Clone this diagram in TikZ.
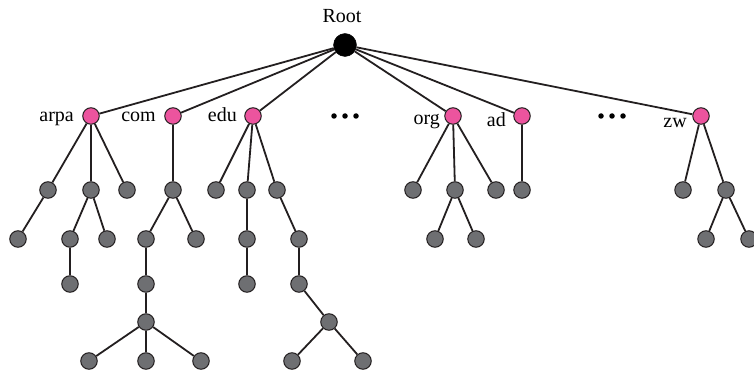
\documentclass[tikz,border=0pt]{standalone}
\usepackage{fontspec}
\setmainfont{Liberation Serif}
\definecolor{pinkn}{RGB}{236,84,158}
\definecolor{grayn}{RGB}{110,111,114}
\definecolor{edge}{RGB}{35,31,32}
\begin{document}
\begin{tikzpicture}[x=1pt,y=-1pt,
  rootn/.style={circle,fill=black,draw=black,minimum size=23pt,inner sep=0pt},
  tld/.style={circle,fill=pinkn,draw=edge,line width=1pt,minimum size=16.5pt,inner sep=0pt},
  leaf/.style={circle,fill=grayn,draw=edge,line width=1pt,minimum size=16.5pt,inner sep=0pt},
  lab/.style={anchor=base east,inner sep=0pt,font=\fontsize{20}{23}\selectfont},
  con/.style={draw=edge,line width=1.8pt},
  dotn/.style={circle,fill=black,minimum size=5.5pt,inner sep=0pt}]
\useasboundingbox (0,0) rectangle (754,371);
% root and top-level domains
\node[rootn] (root) at (345,45) {};
\node[anchor=base,inner sep=0pt,font=\fontsize{20}{23}\selectfont] (rootlab) at (342,23) {Root};
\node[tld] (arpa) at (91,116) {};
\node[tld] (com) at (173,116) {};
\node[tld] (edu) at (253,116) {};
\node[tld] (org) at (453,116) {};
\node[tld] (ad) at (522,116) {};
\node[tld] (zw) at (701,116) {};
\node[lab] (larpa) at (74,122) {arpa};
\node[lab] (lcom) at (156,122) {com};
\node[lab] (ledu) at (237,122) {edu};
\node[lab] (lorg) at (440,125) {org};
\node[lab] (lad) at (506,127) {ad};
\node[lab] (lzw) at (687,128) {zw};
% ellipses
\node[dotn] (d1a) at (334,116) {};
\node[dotn] (d1b) at (345,116) {};
\node[dotn] (d1c) at (356,116) {};
\node[dotn] (d2a) at (601,116) {};
\node[dotn] (d2b) at (612,116) {};
\node[dotn] (d2c) at (623,116) {};
% arpa subtree
\node[leaf] (a1) at (48,190) {};
\node[leaf] (a2) at (91,190) {};
\node[leaf] (a3) at (127,190) {};
\node[leaf] (a11) at (18,239) {};
\node[leaf] (a21) at (70,239) {};
\node[leaf] (a22) at (107,239) {};
\node[leaf] (a211) at (70,284) {};
% com subtree
\node[leaf] (c1) at (173,190) {};
\node[leaf] (c11) at (146,239) {};
\node[leaf] (c12) at (196,239) {};
\node[leaf] (c111) at (146,284) {};
\node[leaf] (c1111) at (146,322) {};
\node[leaf] (cx1) at (89,361) {};
\node[leaf] (cx2) at (146,361) {};
\node[leaf] (cx3) at (201,361) {};
% edu subtree
\node[leaf] (e1) at (216,190) {};
\node[leaf] (e2) at (247,190) {};
\node[leaf] (e3) at (277,190) {};
\node[leaf] (e21) at (247,239) {};
\node[leaf] (e211) at (247,284) {};
\node[leaf] (e31) at (299,239) {};
\node[leaf] (e311) at (299,284) {};
\node[leaf] (e3111) at (329,322) {};
\node[leaf] (ex1) at (292,361) {};
\node[leaf] (ex2) at (363,361) {};
% org subtree
\node[leaf] (o1) at (413,190) {};
\node[leaf] (o2) at (455,190) {};
\node[leaf] (o3) at (496,190) {};
\node[leaf] (o21) at (435,239) {};
\node[leaf] (o22) at (476,239) {};
% ad subtree
\node[leaf] (ad1) at (522,190) {};
% zw subtree
\node[leaf] (z1) at (683,190) {};
\node[leaf] (z2) at (726,190) {};
\node[leaf] (z21) at (706,239) {};
\node[leaf] (z22) at (749,239) {};
% connectors
\foreach \t in {arpa,com,edu,org,ad,zw} \draw[con] (root) -- (\t);
\foreach \a/\b in {arpa/a1,arpa/a2,arpa/a3,a1/a11,a2/a21,a2/a22,a21/a211,
  com/c1,c1/c11,c1/c12,c11/c111,c111/c1111,c1111/cx1,c1111/cx2,c1111/cx3,
  edu/e1,edu/e2,edu/e3,e2/e21,e21/e211,e3/e31,e31/e311,e311/e3111,e3111/ex1,e3111/ex2,
  org/o1,org/o2,org/o3,o2/o21,o2/o22,ad/ad1,zw/z1,zw/z2,z2/z21,z2/z22}
  \draw[con] (\a) -- (\b);
\end{tikzpicture}
\end{document}
